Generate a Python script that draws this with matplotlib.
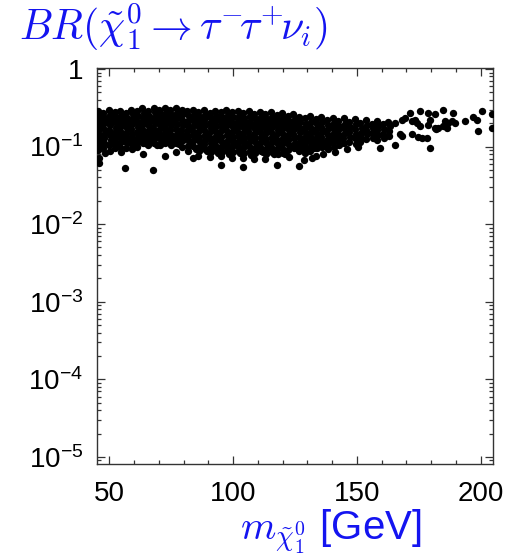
import numpy as np
import matplotlib
matplotlib.use('Agg')
import matplotlib.pyplot as plt
from matplotlib.ticker import MultipleLocator, LogLocator, FixedLocator, NullFormatter

#Data: neutralino mass [GeV] and BR(chi -> tau tau nu)
#one line per mass strip, mass and br lines go together
mass_gev = [
    45.4, 45.9, 45.5, 46.0, 45.3, 45.8, 45.6, 46.1, 45.4, 45.7, 45.9,
    47.6, 48.1, 47.9, 47.5, 48.2, 47.7, 48.0, 47.6, 48.3,
    49.9, 50.4, 50.0, 50.3, 49.8, 50.2, 50.5, 49.9, 50.1,
    52.1, 52.6, 52.2, 52.5, 52.0, 52.4, 52.7, 52.2,
    54.4, 54.9, 54.5, 54.8, 54.3, 54.7, 54.9, 54.4, 54.6,
    56.7, 57.2, 56.8, 57.1, 56.6, 57.0, 57.2, 56.8, 56.4,
    58.9, 59.4, 59.0, 59.3, 58.8, 59.2, 59.5, 59.0, 59.3,
    61.2, 61.7, 61.3, 61.6, 61.1, 61.5, 61.7, 61.3,
    63.4, 63.9, 63.5, 63.8, 63.3, 63.7, 63.9, 63.5, 63.6,
    65.7, 66.2, 65.8, 66.1, 65.6, 66.0, 66.2, 65.8,
    67.9, 68.4, 68.0, 68.3, 67.8, 68.2, 68.4, 68.0, 67.6,
    70.2, 70.7, 70.3, 70.6, 70.1, 70.5, 70.7, 70.3,
    72.4, 72.9, 72.5, 72.8, 72.3, 72.7, 72.9, 72.5, 72.6,
    74.7, 75.2, 74.8, 75.1, 74.6, 75.0, 75.2, 74.8,
    77.0, 77.5, 77.1, 77.4, 76.9, 77.3, 77.5, 77.1, 76.8,
    79.2, 79.7, 79.3, 79.6, 79.1, 79.5, 79.7, 79.3,
    81.5, 82.0, 81.6, 81.9, 81.4, 81.8, 82.0, 81.6, 81.8,
    83.7, 84.2, 83.8, 84.1, 83.6, 84.0, 84.2, 83.8, 84.0,
    86.0, 86.5, 86.1, 86.4, 85.9, 86.3, 86.5, 86.1, 86.4, 86.0,
    88.2, 88.7, 88.3, 88.6, 88.1, 88.5, 88.7, 88.3, 88.6,
    90.5, 91.0, 90.6, 90.9, 90.4, 90.8, 91.0, 90.6, 90.9, 90.5,
    92.8, 93.3, 92.9, 93.2, 92.7, 93.1, 93.3, 92.9, 93.2,
    95.0, 95.5, 95.1, 95.4, 94.9, 95.3, 95.5, 95.1, 95.4, 95.0, 95.2,
    97.3, 97.8, 97.4, 97.7, 97.2, 97.6, 97.8, 97.4, 97.7,
    99.5, 100.0, 99.6, 99.9, 99.4, 99.8, 100.0, 99.6, 99.9, 99.5,
    101.8, 102.3, 101.9, 102.2, 101.7, 102.1, 102.3, 101.9, 102.2,
    104.0, 104.5, 104.1, 104.4, 103.9, 104.3, 104.5, 104.1, 104.4, 104.0, 104.2,
    106.3, 106.8, 106.4, 106.7, 106.2, 106.6, 106.8, 106.4, 106.7,
    108.6, 109.1, 108.7, 109.0, 108.5, 108.9, 109.1, 108.7, 109.0, 108.6,
    110.8, 111.3, 110.9, 111.2, 110.7, 111.1, 111.3, 110.9, 111.2,
    113.1, 113.6, 113.2, 113.5, 113.0, 113.4, 113.6, 113.2, 113.5, 113.1,
    115.3, 115.8, 115.4, 115.7, 115.2, 115.6, 115.8, 115.4, 115.7,
    117.6, 118.1, 117.7, 118.0, 117.5, 117.9, 118.1, 117.7, 118.0, 117.6,
    119.8, 120.3, 119.9, 120.2, 119.7, 120.1, 120.3, 119.9, 120.2,
    122.1, 122.6, 122.2, 122.5, 122.0, 122.4, 122.6, 122.2, 122.5,
    124.4, 124.9, 124.5, 124.8, 124.3, 124.7, 124.9, 124.5,
    126.6, 127.1, 126.7, 127.0, 126.5, 126.9, 127.1, 126.7, 126.6,
    128.9, 129.4, 129.0, 129.3, 128.8, 129.2, 129.4, 129.0,
    131.1, 131.6, 131.2, 131.5, 131.0, 131.4, 131.6, 131.2,
    133.4, 133.9, 133.5, 133.8, 133.3, 133.7, 133.9, 133.5,
    135.6, 136.1, 135.7, 136.0, 135.5, 135.9, 136.1,
    137.9, 138.4, 138.0, 138.3, 137.8, 138.2, 138.4,
    140.2, 140.7, 140.3, 140.6, 140.1, 140.5, 140.7,
    142.4, 142.9, 142.5, 142.8, 142.3, 142.7,
    144.7, 145.2, 144.8, 145.1, 144.6, 145.0,
    146.9, 147.4, 147.0, 147.3, 146.8,
    149.2, 149.7, 149.3, 149.6, 149.1, 149.5,
    151.4, 151.9, 151.5, 151.8, 151.3,
    153.7, 154.2, 153.8, 154.1, 153.6,
    156.0, 156.5, 156.1, 156.4, 159.3,
    158.2, 158.7, 158.3, 158.6, 158.3,
    160.5, 161.0, 160.6, 160.9,
    162.8, 163.3, 162.9, 163.2,
    # sparse tail
    171.5, 175.5, 178.9, 181.6, 184.9, 189.0,
    165.4, 168.1, 169.4, 172.1, 173.5, 174.2, 175.5, 178.9, 179.5, 181.6,
    182.9, 185.6, 187.0, 188.3, 189.6, 193.7, 197.0, 198.4, 200.7, 204.5,
    167.4, 168.1, 172.1, 174.8, 176.2, 178.2, 179.5, 182.2, 184.9, 186.3,
    198.8, 204.5, 165.4,
    # in-between points, the band is really solid
    46.7, 51.2, 53.4, 55.8, 58.0, 60.3, 62.5, 64.8, 67.0, 69.3, 71.5, 73.8,
    76.0, 78.3, 80.6, 82.8, 85.1, 87.3, 89.6, 91.8, 94.1, 96.4, 98.6, 100.9,
    103.1, 105.4, 107.6, 109.9, 112.2, 114.4, 116.7, 118.9, 121.2, 123.4, 125.7,
    128.0, 130.2, 132.5, 134.7, 137.0,
    46.9, 51.0, 53.6, 55.6, 58.2, 60.1, 62.7, 64.6, 67.2, 69.1, 71.7, 73.6,
    76.2, 78.1, 80.4, 83.0, 84.9, 87.5, 89.4, 92.0, 93.9, 96.6, 98.4, 101.1,
    102.9, 105.6, 107.4, 110.1, 112.0, 114.6, 116.5, 119.1, 121.0, 123.6, 125.5,
    128.2, 130.0, 132.7, 134.5, 137.2, 139.3, 141.5,
    # lower stragglers 125-160 GeV
    128.5, 131.8, 136.4, 141.2, 146.0, 150.3,
]

br_tau = [
    0.29, 0.25, 0.22, 0.185, 0.16, 0.14, 0.12, 0.104, 0.09, 0.072, 0.062,
    0.27, 0.235, 0.2, 0.172, 0.15, 0.128, 0.112, 0.097, 0.082,
    0.295, 0.255, 0.215, 0.19, 0.162, 0.14, 0.12, 0.105, 0.088,
    0.275, 0.24, 0.205, 0.175, 0.15, 0.13, 0.112, 0.095,
    0.285, 0.25, 0.215, 0.185, 0.16, 0.138, 0.118, 0.1, 0.085,
    0.27, 0.235, 0.2, 0.172, 0.148, 0.128, 0.11, 0.095, 0.053,
    0.3, 0.26, 0.225, 0.195, 0.168, 0.145, 0.125, 0.108, 0.093,
    0.285, 0.245, 0.21, 0.18, 0.155, 0.134, 0.116, 0.1,
    0.31, 0.27, 0.23, 0.198, 0.17, 0.147, 0.127, 0.11, 0.081,
    0.29, 0.25, 0.215, 0.185, 0.16, 0.138, 0.12, 0.104,
    0.315, 0.275, 0.235, 0.2, 0.172, 0.148, 0.128, 0.11, 0.05,
    0.3, 0.26, 0.222, 0.19, 0.165, 0.142, 0.122, 0.105,
    0.31, 0.27, 0.232, 0.2, 0.172, 0.148, 0.128, 0.11, 0.076,
    0.295, 0.255, 0.218, 0.188, 0.162, 0.14, 0.12, 0.104,
    0.31, 0.27, 0.23, 0.198, 0.17, 0.147, 0.127, 0.11, 0.085,
    0.3, 0.26, 0.222, 0.19, 0.165, 0.142, 0.122, 0.1,
    0.29, 0.25, 0.215, 0.185, 0.16, 0.138, 0.118, 0.102, 0.088,
    0.3, 0.255, 0.22, 0.19, 0.163, 0.14, 0.12, 0.103, 0.072,
    0.28, 0.24, 0.207, 0.178, 0.153, 0.132, 0.115, 0.1, 0.087, 0.076,
    0.3, 0.258, 0.222, 0.19, 0.165, 0.142, 0.123, 0.107, 0.093,
    0.27, 0.235, 0.2, 0.173, 0.15, 0.129, 0.112, 0.097, 0.084, 0.073,
    0.29, 0.25, 0.215, 0.185, 0.16, 0.138, 0.12, 0.104, 0.09,
    0.28, 0.24, 0.206, 0.178, 0.153, 0.132, 0.115, 0.1, 0.086, 0.075, 0.058,
    0.295, 0.255, 0.218, 0.188, 0.162, 0.14, 0.121, 0.105, 0.091,
    0.275, 0.237, 0.204, 0.176, 0.152, 0.131, 0.114, 0.099, 0.085, 0.072,
    0.29, 0.25, 0.214, 0.184, 0.159, 0.137, 0.119, 0.103, 0.089,
    0.27, 0.232, 0.2, 0.172, 0.149, 0.128, 0.111, 0.096, 0.083, 0.072, 0.055,
    0.285, 0.245, 0.21, 0.182, 0.157, 0.135, 0.117, 0.101, 0.088,
    0.265, 0.228, 0.197, 0.17, 0.147, 0.127, 0.11, 0.095, 0.082, 0.07,
    0.28, 0.24, 0.207, 0.178, 0.153, 0.132, 0.115, 0.1, 0.087,
    0.26, 0.225, 0.195, 0.168, 0.145, 0.125, 0.108, 0.094, 0.081, 0.07,
    0.275, 0.237, 0.204, 0.176, 0.152, 0.131, 0.114, 0.099, 0.086,
    0.255, 0.22, 0.19, 0.165, 0.142, 0.123, 0.107, 0.093, 0.08, 0.057,
    0.27, 0.232, 0.2, 0.172, 0.149, 0.128, 0.111, 0.096, 0.083,
    0.25, 0.216, 0.187, 0.162, 0.14, 0.121, 0.105, 0.091, 0.074,
    0.265, 0.228, 0.197, 0.17, 0.147, 0.127, 0.11, 0.095,
    0.24, 0.207, 0.178, 0.154, 0.133, 0.115, 0.1, 0.087, 0.056,
    0.23, 0.198, 0.171, 0.148, 0.128, 0.111, 0.096, 0.083,
    0.245, 0.21, 0.181, 0.156, 0.135, 0.117, 0.101, 0.088,
    0.225, 0.194, 0.168, 0.145, 0.126, 0.109, 0.095, 0.075,
    0.24, 0.206, 0.178, 0.154, 0.133, 0.115, 0.1,
    0.22, 0.19, 0.164, 0.142, 0.123, 0.107, 0.092,
    0.235, 0.202, 0.175, 0.151, 0.131, 0.114, 0.099,
    0.215, 0.186, 0.161, 0.139, 0.121, 0.105,
    0.23, 0.198, 0.171, 0.148, 0.128, 0.111,
    0.205, 0.178, 0.154, 0.134, 0.116,
    0.225, 0.195, 0.169, 0.146, 0.127, 0.108,
    0.2, 0.173, 0.15, 0.13, 0.113,
    0.22, 0.19, 0.165, 0.143, 0.124,
    0.198, 0.172, 0.149, 0.129, 0.095,
    0.215, 0.186, 0.161, 0.14, 0.121,
    0.195, 0.169, 0.147, 0.128,
    0.21, 0.182, 0.158, 0.137,
    # sparse tail
    0.272, 0.286, 0.272, 0.259, 0.30, 0.272,
    0.202, 0.223, 0.23, 0.212, 0.223, 0.202, 0.183, 0.192, 0.223, 0.174,
    0.174, 0.212, 0.202, 0.212, 0.202, 0.216, 0.239, 0.223, 0.286, 0.259,
    0.143, 0.136, 0.143, 0.132, 0.129, 0.129, 0.096, 0.166, 0.183, 0.174,
    0.158, 0.174, 0.106,
    # in-between points
    0.215, 0.232, 0.196, 0.225, 0.21, 0.238, 0.2, 0.245, 0.218, 0.25, 0.212, 0.24,
    0.222, 0.248, 0.205, 0.235, 0.228, 0.21, 0.25, 0.198, 0.235, 0.205, 0.242, 0.19,
    0.226, 0.198, 0.232, 0.185, 0.22, 0.19, 0.215, 0.18, 0.21, 0.185, 0.19,
    0.168, 0.19, 0.16, 0.185, 0.158,
    0.13, 0.112, 0.135, 0.118, 0.125, 0.108, 0.132, 0.112, 0.128, 0.106, 0.135, 0.114,
    0.126, 0.108, 0.132, 0.112, 0.092, 0.108, 0.088, 0.112, 0.083, 0.106, 0.08, 0.11,
    0.082, 0.104, 0.078, 0.1, 0.085, 0.103, 0.079, 0.098, 0.08, 0.102, 0.095,
    0.1, 0.12, 0.097, 0.118, 0.102, 0.135, 0.125,
    # lower stragglers
    0.068, 0.072, 0.08, 0.085, 0.094, 0.1,
]

x_ticks = [50, 100, 150, 200]
y_ticks = [1e-5, 1e-4, 1e-3, 1e-2, 1e-1, 1]
y_ticklabels = [r'$\mathregular{10^{-5}}$', r'$\mathregular{10^{-4}}$', r'$\mathregular{10^{-3}}$',
                r'$\mathregular{10^{-2}}$', r'$\mathregular{10^{-1}}$', '1']

plt.rcParams['font.family'] = ['Liberation Sans', 'DejaVu Sans']
blue = '#1414f0'
axcol = '#333333'

fig = plt.figure(figsize=(5.24, 5.58), dpi=100)
ax = fig.add_axes([0.185, 0.1685, 0.7557, 0.7097])

ax.scatter(mass_gev, br_tau, s=28, c='black', linewidths=0, zorder=3)

ax.set_yscale('log')
ax.set_xlim(45, 205)
ax.set_ylim(8.1e-6, 1.03)

ax.xaxis.set_major_locator(FixedLocator(x_ticks))
ax.xaxis.set_minor_locator(MultipleLocator(10))
ax.set_xticklabels([str(v) for v in x_ticks])
ax.yaxis.set_major_locator(FixedLocator(y_ticks))
ax.yaxis.set_minor_locator(LogLocator(base=10, subs=np.arange(2, 10)))
ax.yaxis.set_minor_formatter(NullFormatter())
ax.set_yticklabels(y_ticklabels)

ax.tick_params(which='both', direction='in', top=True, right=True, color=axcol, width=0.9)
ax.tick_params(which='major', length=6)
ax.tick_params(which='minor', length=3)
ax.tick_params(axis='x', labelsize=20, pad=12)
ax.tick_params(axis='y', labelsize=20, pad=10)
for sp in ax.spines.values():
    sp.set_color(axcol)
    sp.set_linewidth(1.0)

#title and x label sit in figure coords, like the original
fig.text(0.036, 0.928, r'$BR(\tilde{\chi}_1^0 \rightarrow \tau^{-}\!\tau^{+}\!\nu_i)$', color=blue,
         fontsize=30, math_fontfamily='cm', ha='left', va='baseline')
fig.text(0.632, 0.032, r'$m_{\tilde{\chi}_1^0}$ [GeV]', color=blue, fontsize=29,
         math_fontfamily='cm', ha='center', va='baseline')

fig.savefig('out.png', dpi=100)
